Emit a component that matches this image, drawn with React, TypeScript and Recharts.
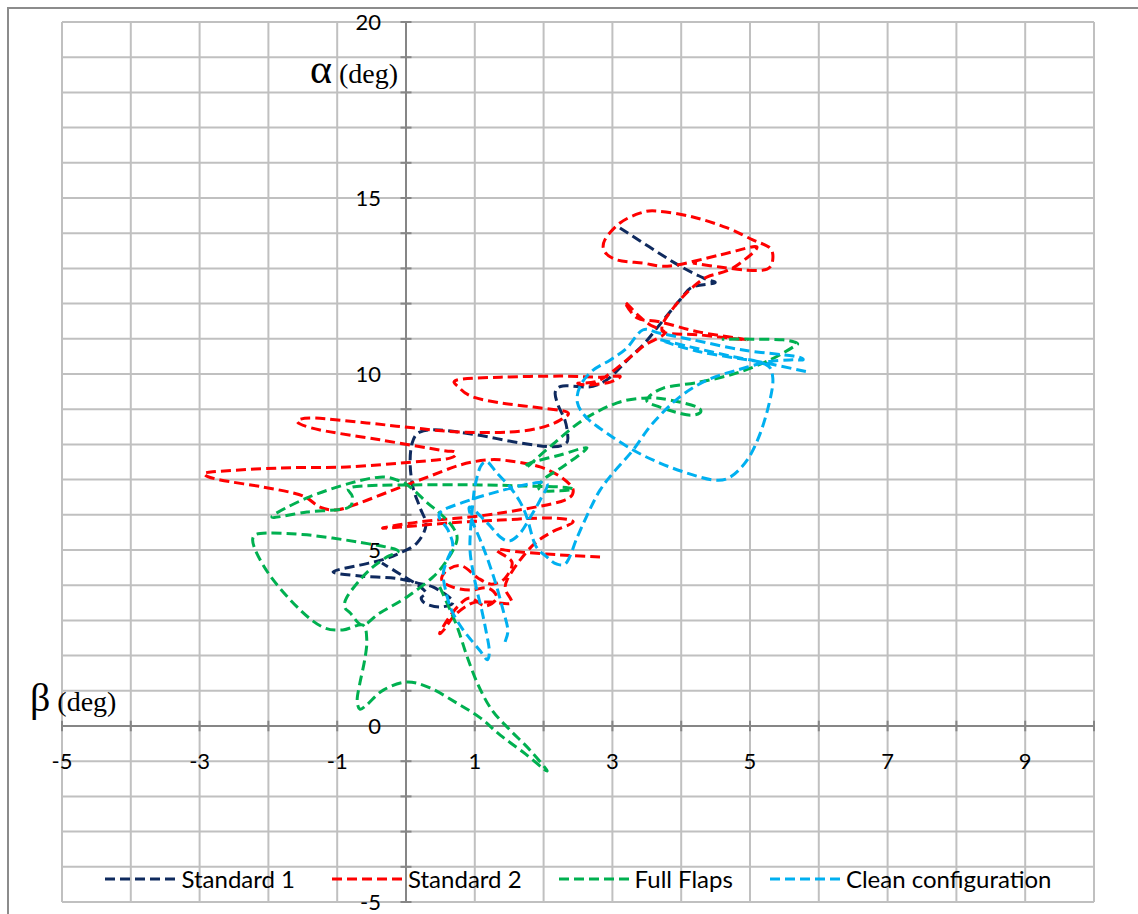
import React from "react";
import {
  ScatterChart,
  Scatter,
  XAxis,
  YAxis,
  CartesianGrid,
  ReferenceLine,
  ReferenceDot,
  Legend,
} from "recharts";

type Pt = { x: number; y: number };

// beta (x) / alpha (y) traces, in plotting order
const standard1: Pt[] = [
  { x: 3.11, y: 14.15 }, { x: 3.91, y: 13.15 }, { x: 4.32, y: 12.73 }, { x: 4.49, y: 12.59 },
  { x: 4.16, y: 12.47 }, { x: 3.98, y: 12.1 }, { x: 3.74, y: 11.53 }, { x: 3.47, y: 10.88 },
  { x: 3.26, y: 10.48 }, { x: 2.97, y: 9.91 }, { x: 2.78, y: 9.69 }, { x: 2.63, y: 9.63 },
  { x: 2.28, y: 9.66 }, { x: 2.17, y: 9.49 }, { x: 2.21, y: 9.12 }, { x: 2.31, y: 8.69 },
  { x: 2.35, y: 8.27 }, { x: 2.33, y: 8.04 }, { x: 2.14, y: 7.93 }, { x: 1.66, y: 8.04 },
  { x: 1.03, y: 8.27 }, { x: 0.49, y: 8.41 }, { x: 0.2, y: 8.35 }, { x: 0.09, y: 8.04 },
  { x: 0.06, y: 7.47 }, { x: 0.1, y: 6.79 }, { x: 0.2, y: 6.22 }, { x: 0.29, y: 5.71 },
  { x: 0.16, y: 5.2 }, { x: -0.09, y: 4.91 }, { x: -0.35, y: 4.72 }, { x: -0.67, y: 4.57 },
  { x: -1.06, y: 4.38 }, { x: -0.67, y: 4.26 }, { x: -0.16, y: 4.2 }, { x: 0.17, y: 4.06 },
  { x: 0.39, y: 3.95 }, { x: 0.64, y: 3.64 }, { x: 0.67, y: 3.47 }, { x: 0.49, y: 3.38 },
  { x: 0.29, y: 3.47 }, { x: 0.22, y: 3.64 }, { x: 0.29, y: 3.78 }, { x: 0.17, y: 4.01 },
  { x: -0.09, y: 4.32 }, { x: -0.35, y: 4.63 },
];

const standard2: Pt[] = [
  { x: 2.82, y: 4.8 }, { x: 2.24, y: 4.86 }, { x: 1.66, y: 4.94 }, { x: 1.32, y: 5.0 },
  { x: 1.54, y: 4.66 }, { x: 1.44, y: 4.2 }, { x: 1.25, y: 4.03 }, { x: 1.05, y: 4.2 },
  { x: 0.81, y: 4.55 }, { x: 0.6, y: 4.43 }, { x: 0.52, y: 4.15 }, { x: 0.67, y: 3.95 },
  { x: 0.93, y: 3.86 }, { x: 1.19, y: 3.92 }, { x: 1.32, y: 3.64 }, { x: 1.15, y: 3.41 },
  { x: 0.93, y: 3.64 }, { x: 0.76, y: 3.41 }, { x: 0.6, y: 3.01 }, { x: 0.49, y: 2.64 },
  { x: 0.55, y: 2.73 }, { x: 0.71, y: 3.15 }, { x: 0.96, y: 3.49 }, { x: 1.22, y: 3.52 },
  { x: 1.53, y: 3.49 }, { x: 1.45, y: 3.86 }, { x: 1.47, y: 4.15 }, { x: 1.66, y: 4.72 },
  { x: 1.88, y: 5.2 }, { x: 2.12, y: 5.51 }, { x: 2.43, y: 5.8 }, { x: 2.09, y: 5.91 },
  { x: 1.37, y: 5.85 }, { x: 0.64, y: 5.77 }, { x: -0.09, y: 5.65 }, { x: -0.33, y: 5.63 },
  { x: 0.2, y: 5.8 }, { x: 1.08, y: 5.97 }, { x: 1.8, y: 6.19 }, { x: 2.31, y: 6.42 },
  { x: 2.43, y: 6.7 }, { x: 2.27, y: 7.05 }, { x: 1.95, y: 7.36 }, { x: 1.51, y: 7.53 },
  { x: 1.18, y: 7.56 }, { x: 0.78, y: 7.41 }, { x: 0.31, y: 7.07 }, { x: -0.19, y: 6.7 },
  { x: -0.67, y: 6.34 }, { x: -1.0, y: 6.14 }, { x: -1.25, y: 6.22 }, { x: -1.44, y: 6.48 },
  { x: -1.64, y: 6.62 }, { x: -2.08, y: 6.79 }, { x: -2.7, y: 6.99 }, { x: -2.92, y: 7.13 },
  { x: -2.81, y: 7.22 }, { x: -1.83, y: 7.33 }, { x: -0.86, y: 7.36 }, { x: 0.1, y: 7.5 },
  { x: 0.64, y: 7.61 }, { x: 0.71, y: 7.78 }, { x: 0.49, y: 7.84 }, { x: -0.38, y: 8.13 },
  { x: -1.25, y: 8.41 }, { x: -1.58, y: 8.64 }, { x: -1.35, y: 8.75 }, { x: -0.57, y: 8.61 },
  { x: 0.1, y: 8.47 }, { x: 0.78, y: 8.35 }, { x: 1.51, y: 8.35 }, { x: 1.95, y: 8.47 },
  { x: 2.24, y: 8.69 }, { x: 2.34, y: 8.92 }, { x: 1.85, y: 9.06 }, { x: 1.37, y: 9.18 },
  { x: 0.97, y: 9.35 }, { x: 0.78, y: 9.6 }, { x: 0.74, y: 9.83 }, { x: 1.37, y: 9.91 },
  { x: 2.24, y: 9.94 }, { x: 2.82, y: 9.91 }, { x: 3.11, y: 9.94 }, { x: 2.97, y: 9.77 },
  { x: 2.67, y: 9.69 }, { x: 2.5, y: 9.74 }, { x: 2.82, y: 9.83 }, { x: 3.26, y: 10.48 },
  { x: 3.47, y: 10.82 }, { x: 3.76, y: 11.16 }, { x: 3.55, y: 11.39 }, { x: 3.4, y: 11.62 },
  { x: 3.18, y: 12.05 }, { x: 3.36, y: 11.59 }, { x: 3.69, y: 11.48 }, { x: 4.27, y: 11.19 },
  { x: 4.96, y: 10.97 }, { x: 4.27, y: 11.11 }, { x: 3.79, y: 11.16 }, { x: 3.72, y: 11.34 },
  { x: 3.79, y: 11.62 }, { x: 3.98, y: 12.1 }, { x: 4.17, y: 12.47 }, { x: 4.38, y: 12.76 },
  { x: 4.75, y: 13.01 }, { x: 5.1, y: 13.61 }, { x: 4.56, y: 13.38 }, { x: 3.84, y: 13.07 },
  { x: 3.44, y: 13.15 }, { x: 3.07, y: 13.24 }, { x: 2.89, y: 13.47 }, { x: 2.89, y: 13.81 },
  { x: 3.11, y: 14.29 }, { x: 3.4, y: 14.57 }, { x: 3.65, y: 14.63 }, { x: 4.17, y: 14.46 },
  { x: 4.67, y: 14.15 }, { x: 5.04, y: 13.81 }, { x: 5.29, y: 13.58 }, { x: 5.33, y: 13.24 },
  { x: 5.25, y: 12.98 }, { x: 4.96, y: 12.95 }, { x: 4.56, y: 13.04 }, { x: 4.17, y: 13.15 },
];

const fullFlaps: Pt[] = [
  { x: 0.49, y: 3.95 }, { x: 0.64, y: 3.3 }, { x: 0.76, y: 2.73 }, { x: 0.89, y: 1.96 },
  { x: 1.05, y: 1.16 }, { x: 1.25, y: 0.45 }, { x: 1.51, y: -0.11 }, { x: 1.8, y: -0.68 },
  { x: 2.05, y: -1.28 }, { x: 1.7, y: -0.74 }, { x: 1.37, y: -0.26 }, { x: 1.08, y: 0.23 },
  { x: 0.74, y: 0.65 }, { x: 0.35, y: 1.08 }, { x: 0.01, y: 1.25 }, { x: -0.33, y: 1.02 },
  { x: -0.57, y: 0.6 }, { x: -0.67, y: 0.48 }, { x: -0.71, y: 0.74 }, { x: -0.67, y: 1.22 },
  { x: -0.6, y: 1.88 }, { x: -0.57, y: 2.44 }, { x: -0.63, y: 2.87 }, { x: -0.92, y: 2.73 },
  { x: -1.21, y: 2.81 }, { x: -1.54, y: 3.3 }, { x: -1.93, y: 4.15 }, { x: -2.17, y: 4.91 },
  { x: -2.22, y: 5.37 }, { x: -2.02, y: 5.48 }, { x: -1.44, y: 5.43 }, { x: -0.71, y: 5.23 },
  { x: -0.13, y: 5.0 }, { x: -0.28, y: 4.8 }, { x: -0.48, y: 4.52 }, { x: -0.67, y: 4.15 },
  { x: -0.86, y: 3.66 }, { x: -0.89, y: 3.38 }, { x: -0.81, y: 3.21 }, { x: -0.63, y: 2.87 },
  { x: -0.38, y: 3.21 }, { x: 0.01, y: 3.66 }, { x: 0.39, y: 4.23 }, { x: 0.6, y: 4.72 },
  { x: 0.74, y: 5.28 }, { x: 0.68, y: 5.65 }, { x: 0.49, y: 6.05 }, { x: 0.31, y: 6.34 },
  { x: 0.06, y: 6.79 }, { x: -0.13, y: 6.99 }, { x: -0.38, y: 7.07 }, { x: -0.81, y: 6.9 },
  { x: -1.44, y: 6.48 }, { x: -1.95, y: 5.94 }, { x: -1.44, y: 6.08 }, { x: -0.86, y: 6.19 },
  { x: -0.78, y: 6.51 }, { x: -0.78, y: 6.79 }, { x: 0.1, y: 6.85 }, { x: 1.08, y: 6.85 },
  { x: 1.66, y: 6.82 }, { x: 2.24, y: 6.79 }, { x: 2.43, y: 6.73 }, { x: 2.24, y: 6.68 },
  { x: 1.95, y: 6.7 }, { x: 1.99, y: 6.99 }, { x: 2.31, y: 7.41 }, { x: 2.63, y: 7.9 },
  { x: 2.24, y: 7.7 }, { x: 1.8, y: 7.47 }, { x: 1.76, y: 7.36 }, { x: 2.09, y: 7.93 },
  { x: 2.57, y: 8.69 }, { x: 3.07, y: 9.18 }, { x: 3.5, y: 9.32 }, { x: 3.84, y: 9.26 },
  { x: 4.23, y: 9.06 }, { x: 4.27, y: 8.89 }, { x: 4.08, y: 8.84 }, { x: 3.69, y: 9.06 },
  { x: 3.5, y: 9.26 }, { x: 3.74, y: 9.6 }, { x: 4.27, y: 9.77 }, { x: 4.81, y: 10.03 },
  { x: 5.29, y: 10.4 }, { x: 5.63, y: 10.77 }, { x: 5.68, y: 10.88 }, { x: 5.48, y: 10.97 },
  { x: 5.04, y: 10.99 }, { x: 4.59, y: 10.99 },
];

const cleanConfig: Pt[] = [
  { x: 1.44, y: 2.39 }, { x: 1.48, y: 2.73 }, { x: 1.41, y: 3.3 }, { x: 1.31, y: 4.01 },
  { x: 1.19, y: 4.72 }, { x: 1.08, y: 5.28 }, { x: 0.96, y: 5.85 }, { x: 0.93, y: 6.22 },
  { x: 1.18, y: 5.77 }, { x: 1.37, y: 5.37 }, { x: 1.51, y: 5.26 }, { x: 1.66, y: 5.48 },
  { x: 1.8, y: 5.91 }, { x: 1.95, y: 6.42 }, { x: 2.05, y: 6.88 }, { x: 1.8, y: 6.88 },
  { x: 1.41, y: 6.7 }, { x: 0.93, y: 6.42 }, { x: 0.49, y: 6.05 }, { x: 0.61, y: 5.57 },
  { x: 0.68, y: 5.14 }, { x: 0.6, y: 4.72 }, { x: 0.54, y: 4.29 }, { x: 0.6, y: 3.66 },
  { x: 0.68, y: 3.21 }, { x: 0.83, y: 2.73 }, { x: 0.97, y: 2.39 }, { x: 1.08, y: 2.13 },
  { x: 1.18, y: 1.88 }, { x: 1.21, y: 2.16 }, { x: 1.16, y: 2.73 }, { x: 1.1, y: 3.3 },
  { x: 1.03, y: 3.86 }, { x: 0.97, y: 4.43 }, { x: 0.93, y: 5.0 }, { x: 0.94, y: 5.63 },
  { x: 0.97, y: 6.28 }, { x: 1.0, y: 6.79 }, { x: 1.08, y: 7.36 }, { x: 1.18, y: 7.5 },
  { x: 1.32, y: 7.19 }, { x: 1.51, y: 6.79 }, { x: 1.66, y: 6.36 }, { x: 1.76, y: 5.91 },
  { x: 1.88, y: 5.14 }, { x: 2.05, y: 4.8 }, { x: 2.19, y: 4.6 }, { x: 2.34, y: 4.66 },
  { x: 2.49, y: 5.37 }, { x: 2.67, y: 6.14 }, { x: 2.82, y: 6.7 }, { x: 3.01, y: 7.19 },
  { x: 3.3, y: 7.84 }, { x: 3.59, y: 8.61 }, { x: 3.98, y: 9.35 }, { x: 4.38, y: 9.83 },
  { x: 4.81, y: 10.11 }, { x: 5.25, y: 10.34 }, { x: 5.58, y: 10.4 }, { x: 5.77, y: 10.4 },
  { x: 5.63, y: 10.51 }, { x: 4.9, y: 10.68 }, { x: 4.17, y: 10.97 }, { x: 3.69, y: 11.16 },
  { x: 3.44, y: 11.25 }, { x: 3.21, y: 10.74 }, { x: 2.97, y: 10.4 }, { x: 2.72, y: 10.11 },
  { x: 2.54, y: 9.69 }, { x: 2.49, y: 9.2 }, { x: 2.63, y: 8.75 }, { x: 2.92, y: 8.32 },
  { x: 3.3, y: 7.84 }, { x: 3.69, y: 7.47 }, { x: 4.08, y: 7.19 }, { x: 4.46, y: 6.99 },
  { x: 4.71, y: 7.07 }, { x: 4.96, y: 7.56 }, { x: 5.15, y: 8.32 }, { x: 5.29, y: 9.26 },
  { x: 5.33, y: 9.91 }, { x: 5.22, y: 10.28 }, { x: 4.71, y: 10.51 }, { x: 4.13, y: 10.77 },
  { x: 3.69, y: 10.97 }, { x: 4.27, y: 10.63 }, { x: 5.15, y: 10.34 }, { x: 5.84, y: 10.06 },
];

const xGridTicks = [-5, -4, -3, -2, -1, 0, 1, 2, 3, 4, 5, 6, 7, 8, 9, 10];
const yGridTicks = [
  -5, -4, -3, -2, -1, 0, 1, 2, 3, 4, 5, 6, 7, 8, 9, 10, 11, 12, 13, 14, 15, 16, 17, 18, 19, 20,
];
const xTickLabels = [-5, -3, -1, 1, 3, 5, 7, 9];
const yTickLabels = [-5, 0, 5, 10, 15, 20];

const series = [
  { name: "Standard 1", data: standard1, color: "#0f2a5e" },
  { name: "Standard 2", data: standard2, color: "#ff0000" },
  { name: "Full Flaps", data: fullFlaps, color: "#00b050" },
  { name: "Clean configuration", data: cleanConfig, color: "#00b0f0" },
];

const AXIS = "#868686";
const GRID = "#c0c0c0";
const SANS = "Lato, 'Open Sans', sans-serif";
const SERIF = "'Liberation Serif', 'Times New Roman', serif";
const DASH = "10 5";

// Excel-like smoothing: bezier through every point, handles at 1/6 of the neighbour span
const excelSmooth = (context: any) => {
  let pts: number[][] = [];
  return {
    areaStart() {},
    areaEnd() {},
    lineStart() {
      pts = [];
    },
    point(x: number, y: number) {
      pts.push([+x, +y]);
    },
    lineEnd() {
      if (!pts.length) return;
      context.moveTo(pts[0][0], pts[0][1]);
      for (let i = 0; i < pts.length - 1; i++) {
        const p0 = pts[i - 1] || pts[i];
        const p1 = pts[i];
        const p2 = pts[i + 1];
        const p3 = pts[i + 2] || p2;
        context.bezierCurveTo(
          p1[0] + (p2[0] - p0[0]) / 6,
          p1[1] + (p2[1] - p0[1]) / 6,
          p2[0] - (p3[0] - p1[0]) / 6,
          p2[1] - (p3[1] - p1[1]) / 6,
          p2[0],
          p2[1]
        );
      }
    },
  };
};

const NoMarker = () => null;

const AlphaTitle = (props: any) => {
  const vb = props.viewBox || props;
  return (
    <text x={vb.x - 8} y={vb.y} textAnchor="end" fill="#000" fontFamily={SERIF}>
      <tspan fontSize={42}>α</tspan>
      <tspan fontSize={28}> (deg)</tspan>
    </text>
  );
};

const BetaTitle = (props: any) => {
  const vb = props.viewBox || props;
  return (
    <text x={vb.x - 32} y={vb.y} textAnchor="start" fill="#000" fontFamily={SERIF}>
      <tspan fontSize={40}>β</tspan>
      <tspan fontSize={28}> (deg)</tspan>
    </text>
  );
};

// legend keeps the series order (Recharts would sort it by name)
const LegendRow = () => (
  <div
    style={{
      display: "flex",
      justifyContent: "center",
      gap: 36,
      fontFamily: SANS,
      fontSize: 24,
      color: "#000",
    }}
  >
    {series.map((s) => (
      <div key={s.name} style={{ display: "flex", alignItems: "center" }}>
        <svg width={72} height={6}>
          <line x1={1} x2={71} y1={3} y2={3} stroke={s.color} strokeWidth={3} strokeDasharray={DASH} />
        </svg>
        <span style={{ marginLeft: 5 }}>{s.name}</span>
      </div>
    ))}
  </div>
);

export default function App() {
  return (
    <div
      style={{
        position: "absolute",
        left: 0,
        top: 0,
        width: 1138,
        height: 914,
        overflow: "hidden",
        background: "#fff",
      }}
    >
      <div
        style={{
          position: "absolute",
          left: 7,
          top: 7,
          width: 1200,
          height: 1000,
          border: "2px solid #8c8c8c",
        }}
      />
      <ScatterChart
        width={1138}
        height={914}
        margin={{ top: 22, right: 44, bottom: 12, left: 62 }}
        style={{ position: "absolute", left: 0, top: 0 }}
      >
        <XAxis
          type="number"
          dataKey="x"
          domain={[-5, 10]}
          ticks={xGridTicks}
          interval={0}
          allowDataOverflow
          hide
        />
        <YAxis
          type="number"
          dataKey="y"
          domain={[-5, 20]}
          ticks={yGridTicks}
          interval={0}
          allowDataOverflow
          hide
        />
        <CartesianGrid stroke={GRID} strokeWidth={2} />

        <ReferenceLine x={0} stroke={AXIS} strokeWidth={2} />
        <ReferenceLine y={0} stroke={AXIS} strokeWidth={2} />
        {xGridTicks.map((t) => (
          <ReferenceLine
            key={"xt" + t}
            segment={[{ x: t, y: -0.15 }, { x: t, y: 0.15 }]}
            stroke={AXIS}
            strokeWidth={2}
          />
        ))}
        {yGridTicks.map((t) => (
          <ReferenceLine
            key={"yt" + t}
            segment={[{ x: -0.08, y: t }, { x: 0.08, y: t }]}
            stroke={AXIS}
            strokeWidth={2}
          />
        ))}

        {xTickLabels.map((t) => (
          <ReferenceDot
            key={"xl" + t}
            x={t}
            y={-1}
            r={0}
            fill="none"
            stroke="none"
            label={{ value: String(t), position: "center", fontSize: 22, fontFamily: SANS, fill: "#000" }}
          />
        ))}
        {yTickLabels.map((t) => (
          <ReferenceDot
            key={"yl" + t}
            x={0}
            y={t}
            r={0}
            fill="none"
            stroke="none"
            label={{ value: String(t), position: "left", offset: 25, fontSize: 22, fontFamily: SANS, fill: "#000" }}
          />
        ))}
        <ReferenceDot x={0} y={18.27} r={0} fill="none" stroke="none" label={(p: any) => <AlphaTitle {...p} />} />
        <ReferenceDot x={-5} y={0.43} r={0} fill="none" stroke="none" label={(p: any) => <BetaTitle {...p} />} />

        {series.map((s) => (
          <Scatter
            key={s.name}
            name={s.name}
            data={s.data}
            fill={s.color}
            shape={NoMarker}
            line={{ stroke: s.color, strokeWidth: 3, strokeDasharray: DASH }}
            lineJointType={excelSmooth as any}
            isAnimationActive={false}
          />
        ))}

        <Legend
          layout="horizontal"
          verticalAlign="middle"
          align="center"
          content={<LegendRow />}
          wrapperStyle={{ left: 62, top: 864, width: 1032 }}
        />
      </ScatterChart>
    </div>
  );
}
